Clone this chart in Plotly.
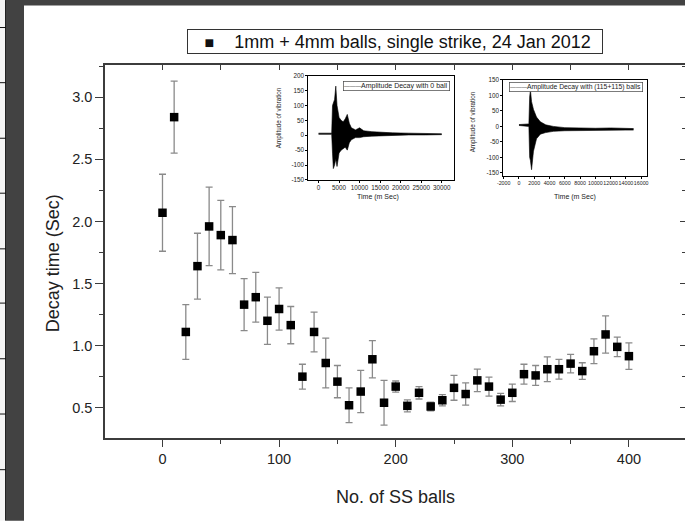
import plotly.graph_objects as go

# ---------------- data ----------------
balls = [0, 10, 20, 30, 40, 50, 60, 70, 80, 90, 100, 110, 120, 130, 140, 150,
         160, 170, 180, 190, 200, 210, 220, 230, 240, 250, 260, 270, 280, 290,
         300, 310, 320, 330, 340, 350, 360, 370, 380, 390, 400]
decay = [2.07, 2.84, 1.11, 1.64, 1.96, 1.89, 1.85, 1.33, 1.39, 1.20, 1.295,
         1.165, 0.75, 1.11, 0.86, 0.71, 0.52, 0.63, 0.89, 0.54, 0.67, 0.515,
         0.62, 0.51, 0.56, 0.66, 0.61, 0.72, 0.67, 0.565, 0.62, 0.77, 0.76,
         0.81, 0.81, 0.855, 0.795, 0.955, 1.09, 0.99, 0.915]
decay_err = [0.31, 0.29, 0.22, 0.265, 0.316, 0.28, 0.27, 0.21, 0.20, 0.19, 0.17,
             0.15, 0.10, 0.16, 0.20, 0.13, 0.14, 0.17, 0.15, 0.18, 0.045, 0.048,
             0.05, 0.035, 0.045, 0.10, 0.09, 0.09, 0.076, 0.05, 0.07, 0.08, 0.08,
             0.10, 0.08, 0.075, 0.067, 0.10, 0.15, 0.078, 0.107]
series_name = "1mm + 4mm balls, single strike, 24 Jan 2012"
x_ticks = [0, 100, 200, 300, 400]
y_ticks = [0.5, 1.0, 1.5, 2.0, 2.5, 3.0]

# inset 1: amplitude envelope, 0 ball
inset1_t = [0, 3200, 3400, 3600, 3900, 4200, 4500, 5000, 5500, 6000, 6500, 7000,
            7500, 8000, 9000, 10000, 11000, 13000, 15000, 18000, 22000, 26000, 30000]
inset1_hi = [7, 7, 100, 110, 120, 165, 100, 60, 50, 45, 55, 70,
             40, 25, 18, 25, 15, 12, 10, 8, 7, 6, 5]
inset1_lo = [3, 3, -60, -112, -100, -80, -105, -60, -50, -45, -40, -50,
             -25, -15, -8, -8, -5, -3, -2, 0, 1, 1, 2]
inset1_name = "Amplitude Decay with 0 ball"
inset1_xticks = [0, 5000, 10000, 15000, 20000, 25000, 30000]
inset1_yticks = [-150, -100, -50, 0, 50, 100, 150, 200]

# inset 2: amplitude envelope, (115+115) balls
inset2_t = [0, 1100, 1300, 1400, 1500, 1650, 1900, 2300, 2800, 3500, 4500, 6000,
            8000, 10000, 12000, 14000, 15000]
inset2_hi = [6, 6, 8, 95, 118, 80, 55, 30, 15, 5, 0, -4, -6, -6, -5, -7, -7]
inset2_lo = [3, 2, 0, -100, -110, -140, -80, -40, -25, -20, -16, -14, -13, -12, -11, -12, -12]
inset2_name = "Amplitude Decay with (115+115) balls"
inset2_xticks = [-2000, 0, 2000, 4000, 6000, 8000, 10000, 12000, 14000, 16000]
inset2_yticks = [-150, -100, -50, 0, 50, 100, 150]

# ---------------- layout geometry (pixels) ----------------
W, H = 685, 521
PL, PR, PT, PB = 105, 685, 65, 438.3


def px(x):
    return (x - PL) / (PR - PL)


def py(y):
    return (PB - y) / (PB - PT)


FONT = "Liberation Sans, Arial, sans-serif"
AX = "#3c3c3c"

fig = go.Figure()

fig.add_trace(go.Scatter(
    x=balls, y=decay, mode="markers", name=series_name,
    marker=dict(symbol="square", size=8.5, color="black"),
    error_y=dict(type="data", array=decay_err, visible=True,
                 color="#8a8a8a", thickness=1.3, width=3.5),
    xaxis="x", yaxis="y", showlegend=False,
))
# dummy trace for mirrored top/right tick axes
fig.add_trace(go.Scatter(x=[None], y=[None], xaxis="x2", yaxis="y2",
                         showlegend=False, hoverinfo="skip"))

# inset 1
fig.add_trace(go.Scatter(x=inset1_t, y=inset1_hi, mode="lines", name=inset1_name,
                         line=dict(color="black", width=0.6),
                         xaxis="x3", yaxis="y3", showlegend=False))
fig.add_trace(go.Scatter(x=inset1_t, y=inset1_lo, mode="lines", fill="tonexty",
                         fillcolor="black", line=dict(color="black", width=0.6),
                         xaxis="x3", yaxis="y3", showlegend=False))
# inset 2
fig.add_trace(go.Scatter(x=inset2_t, y=inset2_hi, mode="lines", name=inset2_name,
                         line=dict(color="black", width=0.6),
                         xaxis="x4", yaxis="y4", showlegend=False))
fig.add_trace(go.Scatter(x=inset2_t, y=inset2_lo, mode="lines", fill="tonexty",
                         fillcolor="black", line=dict(color="black", width=0.6),
                         xaxis="x4", yaxis="y4", showlegend=False))

XR = [-49.3, 448.1]
YR = [0.256, 3.26]

inset_ax = dict(showline=True, mirror=True, linecolor="black", linewidth=0.8,
                ticks="outside", ticklen=2, tickwidth=0.6, tickcolor="black",
                showgrid=False, zeroline=False, tickangle=0,
                tickfont=dict(family=FONT, size=6.3, color="#222"))

fig.update_layout(
    width=W, height=H, autosize=False,
    margin=dict(l=PL, r=W - PR, t=PT, b=H - PB, pad=0),
    paper_bgcolor="white", plot_bgcolor="white",
    font=dict(family=FONT, color="#222"),
    showlegend=False,
    xaxis=dict(domain=[0, 1], range=XR, tickvals=x_ticks, ticks="outside",
               ticklen=7, tickwidth=1.3, tickcolor=AX,
               showline=True, linecolor=AX, linewidth=1.5, mirror=True,
               showgrid=False, zeroline=False,
               tickfont=dict(size=14.5, color="#222"),
               minor=dict(dtick=50, tick0=0, ticks="outside", ticklen=4, tickcolor=AX)),
    yaxis=dict(domain=[0, 1], range=YR, tickvals=y_ticks, ticktext=[f"{v:.1f}" for v in y_ticks],
               ticks="outside", ticklen=8, tickwidth=1.3, tickcolor=AX,
               showline=True, linecolor=AX, linewidth=1.5, mirror=False,
               showgrid=False, zeroline=False,
               tickfont=dict(size=14.5, color="#222"),
               minor=dict(dtick=0.25, tick0=0, ticks="outside", ticklen=4, tickcolor=AX)),
    xaxis2=dict(overlaying="x", anchor="y", side="top", range=XR, dtick=50, tick0=0,
                ticks="inside", ticklen=5, tickcolor=AX, tickwidth=1.2,
                showticklabels=False, showline=False, showgrid=False, zeroline=False),
    yaxis2=dict(overlaying="y", anchor="x", side="right", range=YR, dtick=0.5, tick0=0,
                ticks="inside", ticklen=5, tickcolor=AX, tickwidth=1.2,
                showticklabels=False, showline=False, showgrid=False, zeroline=False,
                minor=dict(dtick=0.25, tick0=0, ticks="inside", ticklen=3, tickcolor=AX)),
    xaxis3=dict(domain=[px(308.3), px(454)], anchor="y3", range=[-2500, 33000],
                tickvals=inset1_xticks, ticktext=[str(v) for v in inset1_xticks], **inset_ax),
    yaxis3=dict(domain=[py(180), py(75.7)], anchor="x3", range=[-150, 200],
                tickvals=inset1_yticks, ticktext=[str(v) for v in inset1_yticks], **inset_ax),
    xaxis4=dict(domain=[px(503.3), px(647.3)], anchor="y4", range=[-2050, 16800],
                tickvals=inset2_xticks, ticktext=[str(v) for v in inset2_xticks],
                **{**inset_ax, "tickfont": dict(family=FONT, size=5.3, color="#222")}),
    yaxis4=dict(domain=[py(176), py(80)], anchor="x4", range=[-160, 150],
                tickvals=inset2_yticks, ticktext=[str(v) for v in inset2_yticks], **inset_ax),
)

# legend boxes (as bordered text)
main_leg = ("&nbsp;&nbsp;&nbsp;<span style='font-size:16px'>\u25A0</span>"
            "&nbsp;&nbsp;&nbsp;&nbsp;" + series_name + "&nbsp;&nbsp;")
fig.add_annotation(text=main_leg, xref="paper", yref="paper", x=px(187), y=py(29),
                   xanchor="left", yanchor="top", showarrow=False,
                   font=dict(size=18, color="#111"), bgcolor="white",
                   bordercolor="#333", borderwidth=1, borderpad=1.5)
for name, lx, ly, fs in [(inset1_name, 342.7, 80.7, 7.0), (inset2_name, 509.3, 81.7, 6.8)]:
    txt = ("<span style='font-size:5.7px'>\u2014\u2014\u2014</span>" + name + "&nbsp;")
    fig.add_annotation(text=txt, xref="paper", yref="paper", x=px(lx), y=py(ly),
                       xanchor="left", yanchor="top", showarrow=False,
                       font=dict(size=fs, color="#222"), bgcolor="white",
                       bordercolor="#444", borderwidth=0.7, borderpad=0.3)

ann = [
    dict(text="Decay time (Sec)", x=px(53), y=py(263.5), textangle=-90, font=dict(size=18)),
    dict(text="No. of SS balls", x=px(395), y=py(497), font=dict(size=18)),
    dict(text="Amplitude of vibration", x=px(279), y=py(118.3), textangle=-90, font=dict(size=6.3)),
    dict(text="Time (m Sec)", x=px(378.3), y=py(196.7), font=dict(size=7)),
    dict(text="Amplitude of vibration", x=px(472.7), y=py(121.7), textangle=-90, font=dict(size=6.3)),
    dict(text="Time (m Sec)", x=px(575), y=py(196.7), font=dict(size=7)),
]
for a in ann:
    fig.add_annotation(xref="paper", yref="paper", showarrow=False,
                       xanchor="center", yanchor="middle", **a)

# screenshot frame (dark border + table lines at far left)
DARK = "#424242"
shapes = [
    dict(type="rect", x0=px(6), x1=px(24), y0=py(H), y1=py(0), fillcolor=DARK, line_width=0),
    dict(type="rect", x0=px(6), x1=px(W + 5), y0=py(5.5), y1=py(-5), fillcolor=DARK, line_width=0),
    dict(type="rect", x0=px(0), x1=px(6), y0=py(H), y1=py(0), fillcolor="#f4f4f4", line_width=0),
    dict(type="line", x0=px(5.5), x1=px(5.5), y0=py(H), y1=py(0), line=dict(color="#222", width=1)),
]
for yy in [27.5, 82.7, 138.3, 193.3, 249, 303.3, 359, 414.3, 470]:
    shapes.append(dict(type="line", x0=px(0), x1=px(6), y0=py(yy), y1=py(yy),
                       line=dict(color="#111", width=1)))
for s in shapes:
    fig.add_shape(xref="paper", yref="paper", layer="above", **s)

fig.write_html("out.html", config={"displayModeBar": False})
